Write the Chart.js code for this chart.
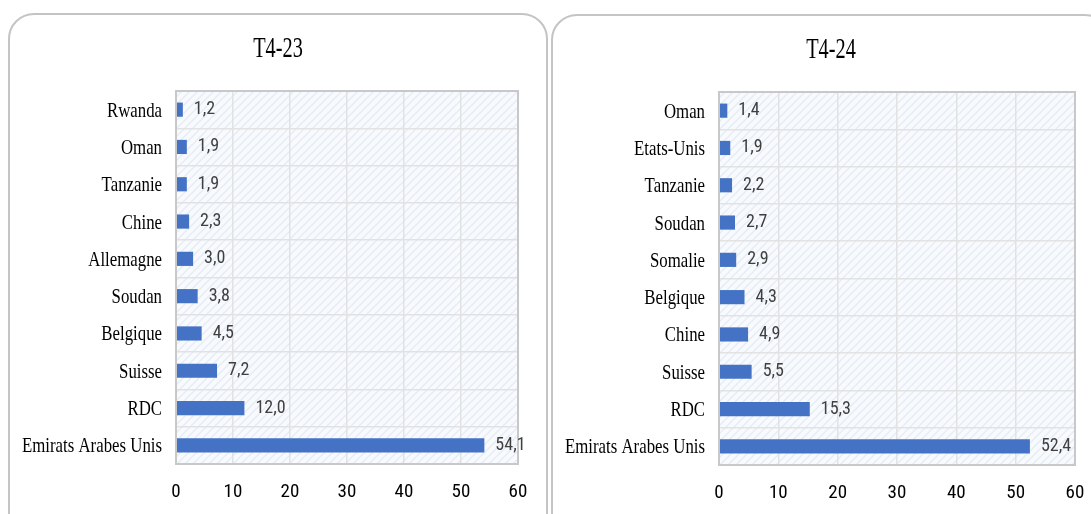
<!DOCTYPE html>
<html>
<head>
<meta charset="utf-8">
<script src="https://cdn.jsdelivr.net/npm/chart.js@4.4.1/dist/chart.umd.min.js"></script>
<style>
  html, body { margin: 0; padding: 0; background: #fff; width: 1091px; height: 514px; overflow: hidden; }
  .card { position: absolute; border: 2px solid #c4c4c4; border-radius: 26px; background: #fff; overflow: hidden; box-sizing: border-box; }
  #card1 { left: 8px; top: 13px; width: 540px; height: 530px; }
  #card2 { left: 551px; top: 14px; width: 560px; height: 530px; }
  .card canvas { position: absolute; left: 0; top: 0; }
</style>
</head>
<body>
<div class="card" id="card1"><canvas id="c1" width="536" height="526"></canvas></div>
<div class="card" id="card2"><canvas id="c2" width="556" height="526"></canvas></div>
<script>
"use strict";

var labels23 = [ "Rwanda", "Oman", "Tanzanie", "Chine", "Allemagne", "Soudan", "Belgique", "Suisse", "RDC", "Emirats Arabes Unis" ];
var values23 = [ 1.2, 1.9, 1.9, 2.3, 3.0, 3.8, 4.5, 7.2, 12.0, 54.1 ];

var labels24 = [ "Oman", "Etats-Unis", "Tanzanie", "Soudan", "Somalie", "Belgique", "Chine", "Suisse", "RDC", "Emirats Arabes Unis" ];
var values24 = [ 1.4, 1.9, 2.2, 2.7, 2.9, 4.3, 4.9, 5.5, 15.3, 52.4 ];

var xTicks = [ 0, 10, 20, 30, 40, 50, 60 ];

var narrowFont = "'Roboto Condensed', 'Liberation Sans Narrow', 'Arial Narrow', sans-serif";
var serifFont  = "'Liberation Serif', 'Times New Roman', serif";

function hatchPattern(ctx) {
    var p = document.createElement("canvas");
    p.width = 8;
    p.height = 8;
    var g = p.getContext("2d");
    g.fillStyle = "#f8fafd";
    g.fillRect(0, 0, 8, 8);
    g.strokeStyle = "#e4ecf6";
    g.lineWidth = 1.4;
    g.beginPath();
    g.moveTo(-2, 10); g.lineTo(10, -2);
    g.moveTo(-2, 2); g.lineTo(2, -2);
    g.moveTo(6, 10); g.lineTo(10, 6);
    g.stroke();
    return ctx.createPattern(p, "repeat");
}

// condensed text, the original uses a squeezed Times face
function squeezedText(ctx, txt, x, y, scale) {
    ctx.save();
    ctx.translate(x, y);
    ctx.scale(scale, 1);
    ctx.fillText(txt, 0, 0);
    ctx.restore();
}

var plotBackground = {
    id: "plotBackground",
    beforeDraw: function (chart) {
        var a = chart.chartArea, ctx = chart.ctx;
        ctx.save();
        ctx.fillStyle = hatchPattern(ctx);
        ctx.fillRect(a.left, a.top, a.right - a.left, a.bottom - a.top);
        ctx.restore();
    },
    afterDatasetsDraw: function (chart) {
        var a = chart.chartArea, ctx = chart.ctx;
        ctx.save();
        ctx.strokeStyle = "#c8c8c8";
        ctx.lineWidth = 2;
        ctx.strokeRect(a.left, a.top, a.right - a.left, a.bottom - a.top);
        ctx.restore();
    }
};

var textLayer = {
    id: "textLayer",
    afterDraw: function (chart) {
        var ctx = chart.ctx;
        var a = chart.chartArea;
        var meta = chart.getDatasetMeta(0);
        var data = chart.data.datasets[0].data;
        var yScale = chart.scales.y;

        ctx.save();
        // title
        ctx.fillStyle = "#000";
        ctx.textAlign = "center";
        ctx.textBaseline = "alphabetic";
        ctx.font = "29px " + serifFont;
        squeezedText(ctx, chart.options.titleText, chart.width / 2, 42, 0.7);

        // category labels
        ctx.textAlign = "right";
        ctx.font = "21px " + serifFont;
        chart.data.labels.forEach(function (lab, i) {
            squeezedText(ctx, lab, a.left - 14, yScale.getPixelForTick(i) + 7, 0.8);
        });

        // value labels
        ctx.font = "18px " + narrowFont;
        ctx.fillStyle = "#404040";
        ctx.textAlign = "left";
        ctx.textBaseline = "middle";
        meta.data.forEach(function (bar, i) {
            var txt = data[i].toFixed(1).replace(".", ",");
            ctx.fillText(txt, bar.x + 11, bar.y);
        });
        ctx.restore();
    }
};

function makeChart(id, title, labels, values, rightPad) {
    return new Chart(document.getElementById(id), {
        type   : "bar",
        data   : {
            labels  : labels,
            datasets: [ {
                data              : values,
                backgroundColor   : "#4472c4",
                borderWidth       : 0,
                barPercentage     : 0.38,
                categoryPercentage: 1
            } ]
        },
        options: {
            titleText          : title,
            indexAxis          : "y",
            responsive         : false,
            animation          : false,
            layout             : {
                padding: { left: 0, right: rightPad, top: 76, bottom: 0 }
            },
            plugins            : {
                legend : { display: false },
                tooltip: { enabled: false }
            },
            scales             : {
                x: {
                    min   : 0,
                    max   : 60,
                    afterBuildTicks: function (axis) {
                        axis.ticks = xTicks.map(function (v) { return { value: v }; });
                    },
                    afterFit: function (axis) { axis.height = 77; },
                    grid  : { color: "#e2e2e2", lineWidth: 1.5, drawTicks: false },
                    border: { display: false },
                    ticks : {
                        color  : "#000",
                        padding: 17,
                        font   : { family: narrowFont, size: 19 }
                    }
                },
                y: {
                    afterFit: function (axis) { axis.width = 166; },
                    grid  : { color: "#e2e2e2", lineWidth: 1.5, drawTicks: false },
                    border: { display: false },
                    ticks : {
                        color  : "rgba(0,0,0,0)",
                        padding: 12,
                        font   : { family: serifFont, size: 17 }
                    }
                }
            }
        },
        plugins: [ plotBackground, textLayer ]
    });
}

makeChart("c1", "T4-23", labels23, values23, 28);
makeChart("c2", "T4-24", labels24, values24, 34);
</script>
</body>
</html>
